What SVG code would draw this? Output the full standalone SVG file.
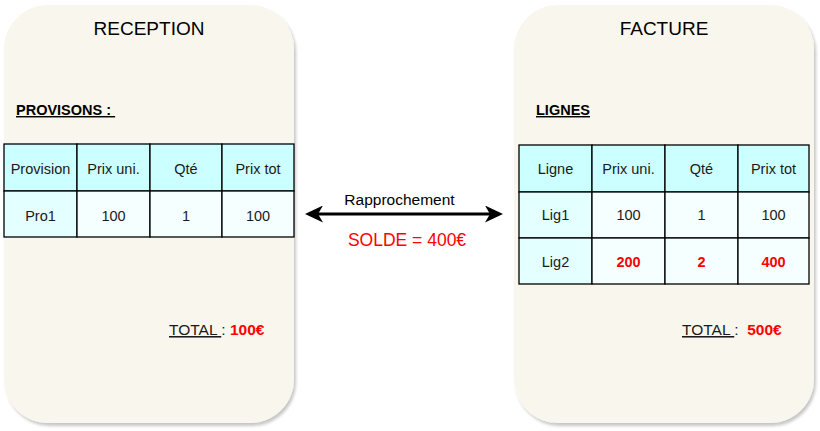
<svg xmlns="http://www.w3.org/2000/svg" width="820" height="431" viewBox="0 0 820 431">
<defs>
<filter id="sh" x="-10%" y="-10%" width="120%" height="120%">
<feDropShadow dx="2" dy="3" stdDeviation="1.5" flood-color="#000" flood-opacity="0.22"/>
</filter>
<marker id="ah" markerUnits="userSpaceOnUse" markerWidth="18" markerHeight="17" refX="14" refY="8.5" orient="auto-start-reverse">
<path d="M0,0 L18,8.5 L0,17 L5,8.5 Z" fill="#000"/>
</marker>
<style>
text{font-family:"Liberation Sans",Arial,Helvetica,sans-serif;fill:#1a1a1a}
.box{fill:#f9f7ed;stroke:none;filter:url(#sh)}
.title{font-size:19px;text-anchor:middle;fill:#000}
.sec{font-size:14.5px;font-weight:bold;text-decoration:underline;fill:#000}
.hd{fill:#ccffff;stroke:#000;stroke-width:1.3}
.c1{fill:#e3ffff;stroke:#000;stroke-width:1.3}
.cd{fill:#f6ffff;stroke:#000;stroke-width:1.3}
.t{font-size:14.5px;text-anchor:middle}
.red{fill:#ff0000;font-weight:bold}
.tot{font-size:15.5px}
.u{text-decoration:underline}
</style>
</defs>

<g id="reception">
<rect class="box" x="4" y="5" width="290" height="418" rx="44" ry="44"/>
<text class="title" x="149" y="35">RECEPTION</text>
<text class="sec" x="16" y="115" xml:space="preserve">PROVISONS : </text>
<g id="table-provisions">
<rect class="hd" x="4" y="144" width="73" height="47"/>
<rect class="hd" x="77" y="144" width="73" height="47"/>
<rect class="hd" x="150" y="144" width="72" height="47"/>
<rect class="hd" x="222" y="144" width="72" height="47"/>
<rect class="c1" x="4" y="191" width="73" height="46"/>
<rect class="cd" x="77" y="191" width="73" height="46"/>
<rect class="cd" x="150" y="191" width="72" height="46"/>
<rect class="cd" x="222" y="191" width="72" height="46"/>
<text class="t" x="40.5" y="174">Provision</text>
<text class="t" x="113.5" y="174">Prix uni.</text>
<text class="t" x="186" y="174">Qté</text>
<text class="t" x="258" y="174">Prix tot</text>
<text class="t" x="40.5" y="221">Pro1</text>
<text class="t" x="113.5" y="221">100</text>
<text class="t" x="186" y="221">1</text>
<text class="t" x="258" y="221">100</text>
</g>
<text class="tot" x="169" y="335" xml:space="preserve"><tspan class="u">TOTAL </tspan>: <tspan class="red">100€</tspan></text>
</g>

<g id="facture">
<rect class="box" x="514" y="5" width="300" height="418" rx="44" ry="44"/>
<text class="title" x="664" y="35">FACTURE</text>
<text class="sec" x="536" y="115">LIGNES</text>
<g id="table-lignes">
<rect class="hd" x="519" y="145" width="73" height="47"/>
<rect class="hd" x="592" y="145" width="73" height="47"/>
<rect class="hd" x="665" y="145" width="73" height="47"/>
<rect class="hd" x="738" y="145" width="71" height="47"/>
<rect class="c1" x="519" y="192" width="73" height="46"/>
<rect class="cd" x="592" y="192" width="73" height="46"/>
<rect class="cd" x="665" y="192" width="73" height="46"/>
<rect class="cd" x="738" y="192" width="71" height="46"/>
<rect class="c1" x="519" y="238" width="73" height="46"/>
<rect class="cd" x="592" y="238" width="73" height="46"/>
<rect class="cd" x="665" y="238" width="73" height="46"/>
<rect class="cd" x="738" y="238" width="71" height="46"/>
<text class="t" x="555.5" y="174">Ligne</text>
<text class="t" x="628.5" y="174">Prix uni.</text>
<text class="t" x="701.5" y="174">Qté</text>
<text class="t" x="773.5" y="174">Prix tot</text>
<text class="t" x="555.5" y="220">Lig1</text>
<text class="t" x="628.5" y="220">100</text>
<text class="t" x="701.5" y="220">1</text>
<text class="t" x="773.5" y="220">100</text>
<text class="t" x="555.5" y="267">Lig2</text>
<text class="t red" x="628.5" y="267">200</text>
<text class="t red" x="701.5" y="267">2</text>
<text class="t red" x="773.5" y="267">400</text>
</g>
<text class="tot" x="682" y="335" xml:space="preserve"><tspan class="u">TOTAL </tspan>:  <tspan class="red">500€</tspan></text>
</g>

<g id="connectors">
<line x1="309" y1="214" x2="499" y2="214" stroke="#000" stroke-width="3" marker-start="url(#ah)" marker-end="url(#ah)"/>
<text x="399.5" y="205" style="font-size:15.5px;text-anchor:middle;fill:#000">Rapprochement</text>
<text x="407" y="246" style="font-size:17.5px;text-anchor:middle;fill:#ff0000">SOLDE = 400€</text>
</g>
</svg>
